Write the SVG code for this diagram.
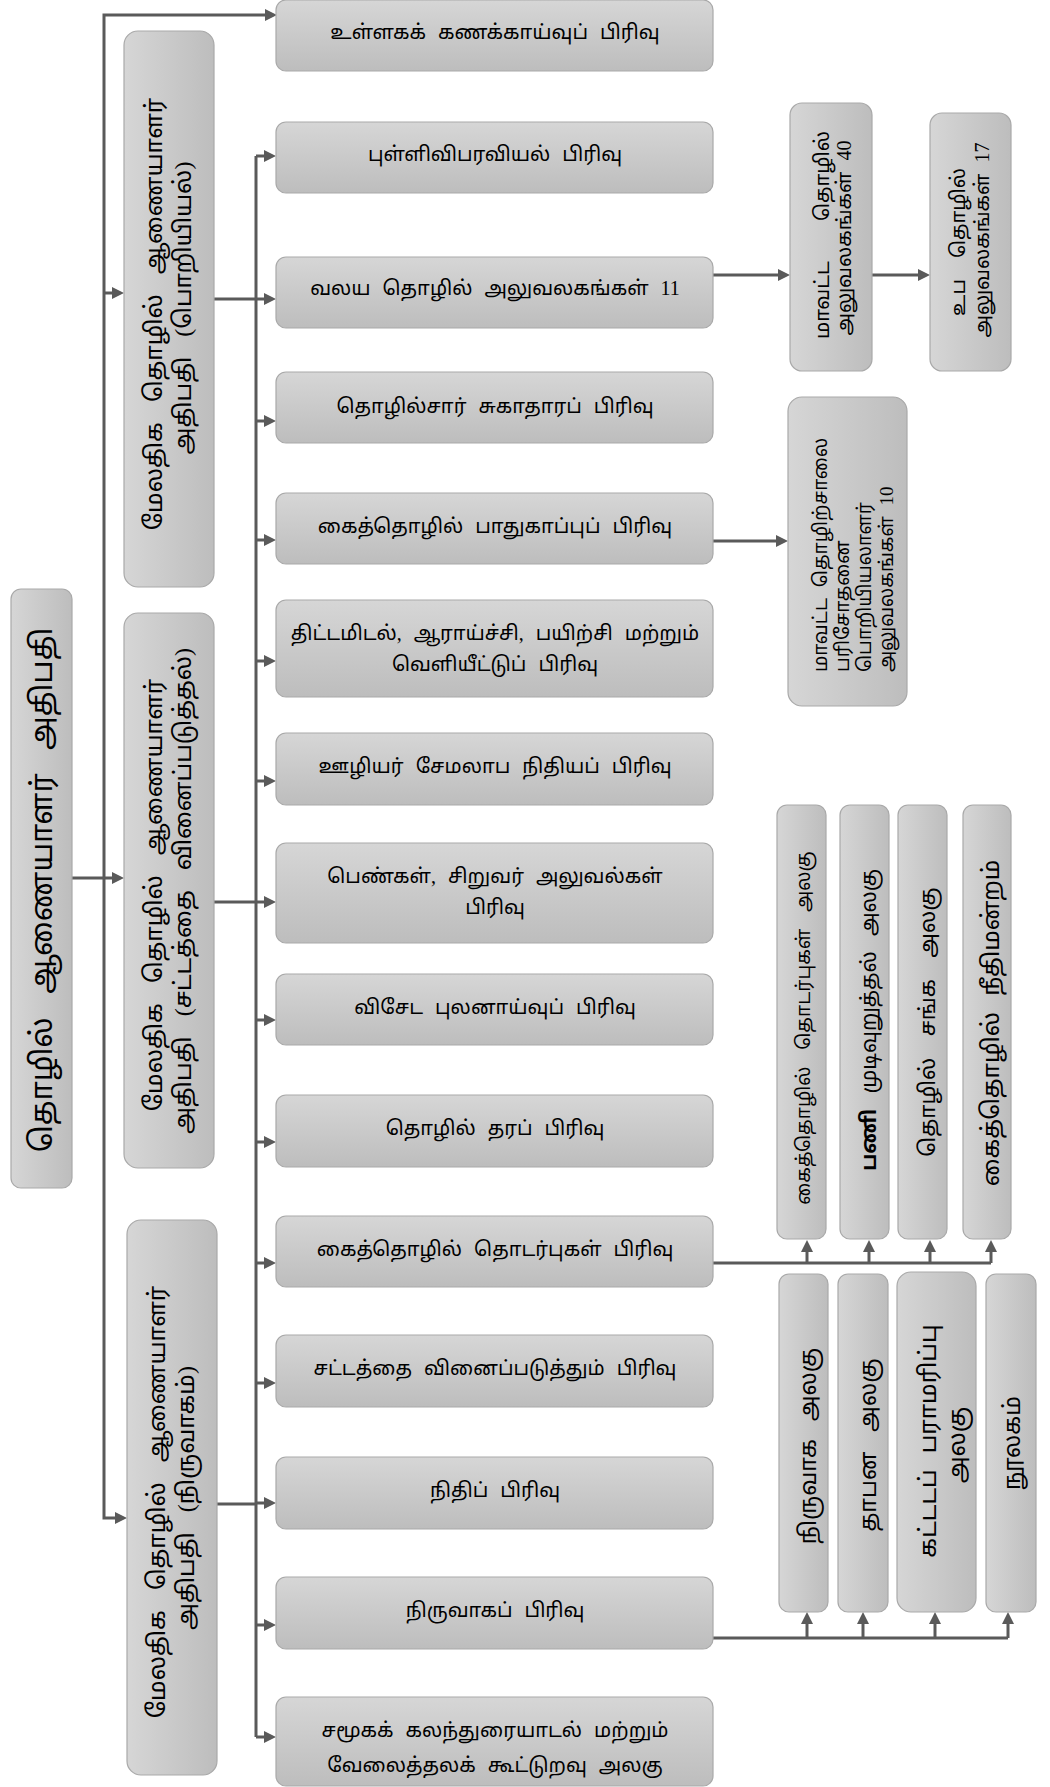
<svg xmlns="http://www.w3.org/2000/svg" width="1050" height="1787" viewBox="0 0 1050 1787">
<defs>
<linearGradient id="gv" x1="0" y1="0" x2="0" y2="1"><stop offset="0" stop-color="#d6d6d6"/><stop offset="1" stop-color="#bdbdbd"/></linearGradient>
<linearGradient id="gh" x1="0" y1="0" x2="1" y2="0"><stop offset="0" stop-color="#d6d6d6"/><stop offset="1" stop-color="#bdbdbd"/></linearGradient>
<marker id="ah" viewBox="0 0 12 12" refX="2" refY="6" markerWidth="12" markerHeight="12" markerUnits="userSpaceOnUse" orient="auto"><path d="M0,0 L12,6 L0,12 z" fill="#5a5a5a"/></marker>
<style>
.bv{fill:url(#gv);stroke:#a9a9a9;stroke-width:1.2}
.bh{fill:url(#gh);stroke:#a9a9a9;stroke-width:1.2}
.c{fill:none;stroke:#5a5a5a;stroke-width:3}
.a{marker-end:url(#ah)}
text{font-family:"Liberation Serif","Noto Sans Tamil","Noto Serif Tamil","Lohit Tamil","Latha",serif;fill:#000;text-anchor:middle}
.f20{font-size:20px;word-spacing:7px}
.m{font-size:24px;word-spacing:14px}
.r{font-size:30px;word-spacing:16px}
.s{font-size:20px;word-spacing:6px}
.f19{font-size:19px;word-spacing:6px}
</style>
</defs>
<g id="connectors">
<path class="c a" d="M72,878 H114"/>
<path class="c a" d="M104,878 V15 H267"/>
<path class="c a" d="M104,293 H114"/>
<path class="c a" d="M104,878 V1518 H117"/>
<path class="c" d="M256,156 V1737"/>
<path class="c" d="M214,299 H256"/>
<path class="c" d="M214,902 H256"/>
<path class="c" d="M217,1504 H256"/>
<path class="c a" d="M256,156 H266"/>
<path class="c a" d="M256,299 H266"/>
<path class="c a" d="M256,421 H266"/>
<path class="c a" d="M256,540 H266"/>
<path class="c a" d="M256,661 H266"/>
<path class="c a" d="M256,781 H266"/>
<path class="c a" d="M256,902 H266"/>
<path class="c a" d="M256,1020 H266"/>
<path class="c a" d="M256,1142 H266"/>
<path class="c a" d="M256,1263 H266"/>
<path class="c a" d="M256,1383 H266"/>
<path class="c a" d="M256,1503 H266"/>
<path class="c a" d="M256,1625 H266"/>
<path class="c a" d="M256,1737 H266"/>
<path class="c a" d="M713,275 H780"/>
<path class="c a" d="M872,275 H920"/>
<path class="c a" d="M713,541 H778"/>
<path class="c" d="M713,1263 H991"/>
<path class="c a" d="M807,1263 V1250"/>
<path class="c a" d="M869,1263 V1250"/>
<path class="c a" d="M930,1263 V1250"/>
<path class="c a" d="M991,1263 V1250"/>
<path class="c" d="M713,1638 H1008"/>
<path class="c a" d="M807,1638 V1622"/>
<path class="c a" d="M863,1638 V1622"/>
<path class="c a" d="M935,1638 V1622"/>
<path class="c a" d="M1008,1638 V1622"/>
</g>
<g id="root">
<rect class="bh" x="11" y="589" width="61" height="599" rx="10"/>
<text class="r" transform="translate(52,890) rotate(-90)">தொழில் ஆணையாளர் அதிபதி</text>
</g>
<g id="dc-eng">
<rect class="bh" x="124" y="31" width="90" height="556" rx="14"/>
<text class="m" transform="translate(162,314) rotate(-90)">மேலதிக தொழில் ஆணையாளர்</text>
<text class="m" transform="translate(191,308) rotate(-90)">அதிபதி (பொறியியல்)</text>
</g>
<g id="dc-enf">
<rect class="bh" x="124" y="613" width="90" height="555" rx="14"/>
<text class="m" transform="translate(162,895) rotate(-90)">மேலதிக தொழில் ஆணையாளர்</text>
<text class="m" transform="translate(191,891) rotate(-90)">அதிபதி (சட்டத்தை வினைப்படுத்தல்)</text>
</g>
<g id="dc-adm">
<rect class="bh" x="127" y="1220" width="90" height="555" rx="14"/>
<text class="m" transform="translate(165,1502) rotate(-90)">மேலதிக தொழில் ஆணையாளர்</text>
<text class="m" transform="translate(194,1498) rotate(-90)">அதிபதி (நிருவாகம்)</text>
</g>
<g id="b0"><rect class="bv" x="276" y="0" width="437" height="71" rx="10"/><text class="f20" x="495" y="39">உள்ளகக் கணக்காய்வுப் பிரிவு</text></g>
<g id="b1"><rect class="bv" x="276" y="122" width="437" height="71" rx="10"/><text class="f20" x="495" y="161">புள்ளிவிபரவியல் பிரிவு</text></g>
<g id="b2"><rect class="bv" x="276" y="257" width="437" height="71" rx="10"/><text class="f20" x="495" y="295">வலய தொழில் அலுவலகங்கள் 11</text></g>
<g id="b3"><rect class="bv" x="276" y="372" width="437" height="71" rx="10"/><text class="f20" x="495" y="413">தொழில்சார் சுகாதாரப் பிரிவு</text></g>
<g id="b4"><rect class="bv" x="276" y="493" width="437" height="71" rx="10"/><text class="f20" x="495" y="533">கைத்தொழில் பாதுகாப்புப் பிரிவு</text></g>
<g id="b5"><rect class="bv" x="276" y="600" width="437" height="97" rx="10"/><text class="f20" x="495" y="640">திட்டமிடல், ஆராய்ச்சி, பயிற்சி மற்றும்</text><text class="f20" x="495" y="671">வெளியீட்டுப் பிரிவு</text></g>
<g id="b6"><rect class="bv" x="276" y="733" width="437" height="72" rx="10"/><text class="f20" x="495" y="773">ஊழியர் சேமலாப நிதியப் பிரிவு</text></g>
<g id="b7"><rect class="bv" x="276" y="843" width="437" height="100" rx="10"/><text class="f20" x="495" y="883">பெண்கள், சிறுவர் அலுவல்கள்</text><text class="f20" x="495" y="914">பிரிவு</text></g>
<g id="b8"><rect class="bv" x="276" y="974" width="437" height="71" rx="10"/><text class="f20" x="495" y="1014">விசேட புலனாய்வுப் பிரிவு</text></g>
<g id="b9"><rect class="bv" x="276" y="1095" width="437" height="72" rx="10"/><text class="f20" x="495" y="1135">தொழில் தரப் பிரிவு</text></g>
<g id="b10"><rect class="bv" x="276" y="1216" width="437" height="71" rx="10"/><text class="f20" x="495" y="1256">கைத்தொழில் தொடர்புகள் பிரிவு</text></g>
<g id="b11"><rect class="bv" x="276" y="1335" width="437" height="72" rx="10"/><text class="f20" x="495" y="1375">சட்டத்தை வினைப்படுத்தும் பிரிவு</text></g>
<g id="b12"><rect class="bv" x="276" y="1457" width="437" height="72" rx="10"/><text class="f20" x="495" y="1497">நிதிப் பிரிவு</text></g>
<g id="b13"><rect class="bv" x="276" y="1577" width="437" height="72" rx="10"/><text class="f20" x="495" y="1617">நிருவாகப் பிரிவு</text></g>
<g id="b14"><rect class="bv" x="276" y="1697" width="437" height="89" rx="10"/><text class="f20" x="495" y="1737">சமூகக் கலந்துரையாடல் மற்றும்</text><text class="f20" x="495" y="1772">வேலைத்தலக் கூட்டுறவு அலகு</text></g>
<g id="d-dist">
<rect class="bh" x="790" y="103" width="82" height="268" rx="12"/>
<g transform="translate(829,0) rotate(-90)"><text class="s" x="-339" y="0" style="text-anchor:start">மாவட்ட</text><text class="s" x="-131" y="0" style="text-anchor:end">தொழில்</text></g>
<text class="s" transform="translate(851,238) rotate(-90)">அலுவலகங்கள் 40</text>
</g>
<g id="e-sub">
<rect class="bh" x="930" y="113" width="81" height="258" rx="12"/>
<text class="s" style="word-spacing:16px" transform="translate(965,242) rotate(-90)">உப தொழில்</text>
<text class="s" transform="translate(989,240) rotate(-90)">அலுவலகங்கள் 17</text>
</g>
<g id="f-fact">
<rect class="bh" x="788" y="397" width="119" height="309" rx="14"/>
<g transform="rotate(-90)">
<text class="f19" x="-672" y="827" style="text-anchor:start">மாவட்ட தொழிற்சாலை</text>
<text class="f19" x="-672" y="849" style="text-anchor:start">பரிசோதனை</text>
<text class="f19" x="-672" y="871" style="text-anchor:start">பொறியியலாளர்</text>
<text class="f19" x="-672" y="893" style="text-anchor:start">அலுவலகங்கள் 10</text>
</g>
</g>
<g id="g1"><rect class="bh" x="777" y="805" width="49" height="434" rx="10"/><text style="font-size:19px;word-spacing:12px" transform="translate(810,1028) rotate(-90)">கைத்தொழில் தொடர்புகள் அலகு</text></g>
<g id="g2"><rect class="bh" x="840" y="805" width="49" height="434" rx="10"/><text style="font-size:21px;word-spacing:10px" transform="translate(876,1020) rotate(-90)"><tspan font-weight="bold">பணி</tspan> முடிவுறுத்தல் அலகு</text></g>
<g id="g3"><rect class="bh" x="898" y="805" width="49" height="434" rx="10"/><text style="font-size:22px;word-spacing:16px" transform="translate(935,1022) rotate(-90)">தொழில் சங்க அலகு</text></g>
<g id="g4"><rect class="bh" x="963" y="805" width="48" height="434" rx="10"/><text style="font-size:24px;word-spacing:10px" transform="translate(999,1023) rotate(-90)">கைத்தொழில் நீதிமன்றம்</text></g>
<g id="h1"><rect class="bh" x="779" y="1274" width="49" height="338" rx="10"/><text style="font-size:23px;word-spacing:12px" transform="translate(816,1446) rotate(-90)">நிருவாக அலகு</text></g>
<g id="h2"><rect class="bh" x="838" y="1274" width="50" height="338" rx="10"/><text style="font-size:23px;word-spacing:14px" transform="translate(876,1445) rotate(-90)">தாபன அலகு</text></g>
<g id="h3"><rect class="bh" x="897" y="1272" width="79" height="340" rx="14"/><text style="font-size:24px;word-spacing:10px" transform="translate(936,1441) rotate(-90)">கட்டடப் பராமரிப்பு</text><text style="font-size:24px" transform="translate(965,1445) rotate(-90)">அலகு</text></g>
<g id="h4"><rect class="bh" x="986" y="1274" width="50" height="338" rx="10"/><text style="font-size:23px" transform="translate(1020,1443) rotate(-90)">நூலகம்</text></g>
</svg>
